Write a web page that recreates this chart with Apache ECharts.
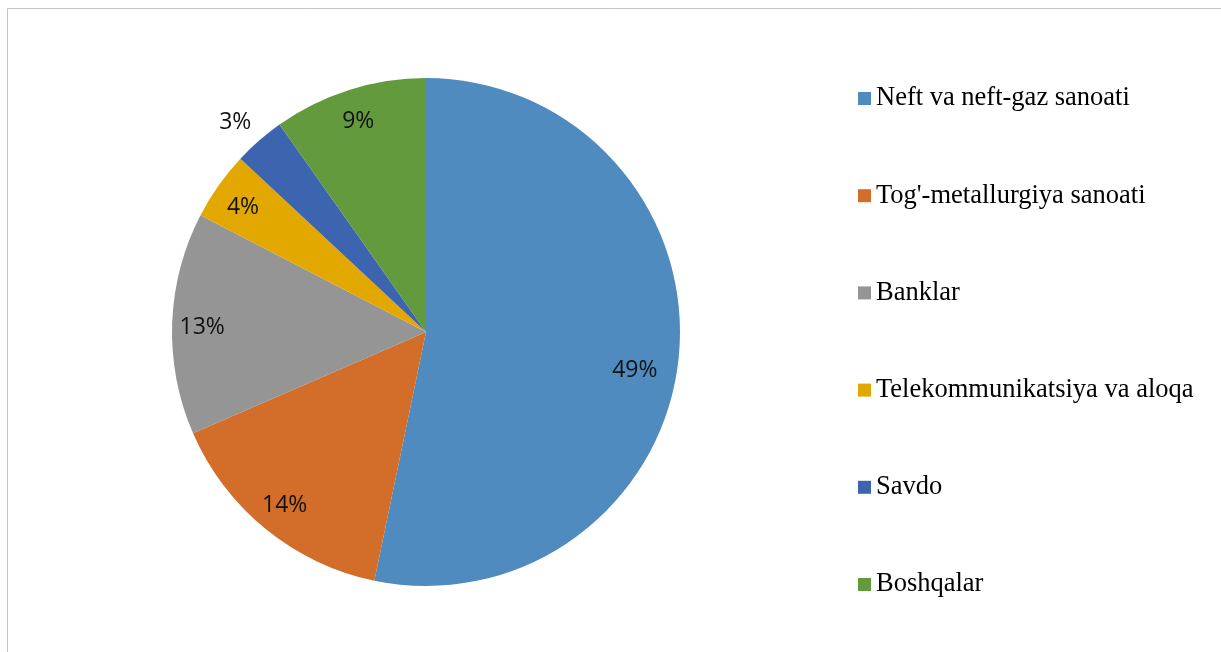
<!DOCTYPE html>
<html><head><meta charset="utf-8">
<script src="https://cdn.jsdelivr.net/npm/echarts@6/dist/echarts.min.js"></script>
<style>html,body{margin:0;padding:0;background:#fff}#c{width:1221px;height:652px}</style>
</head><body><div id="c"></div>
<script>
const categories = ["Neft va neft-gaz sanoati","Tog'-metallurgiya sanoati","Banklar","Telekommunikatsiya va aloqa","Savdo","Boshqalar"];
const values = [49, 14, 13, 4, 3, 9];
const colors = ['#4F8BBF','#D26D2A','#959595','#E3A800','#3D64AE','#639A3E'];
const outsideLabels = ["Savdo"];
// small label nudges (Excel best-fit placement)
const labelNudge = {"Neft va neft-gaz sanoati":[-14,16], "Savdo":[13,0], "Banklar":[0,3], "Telekommunikatsiya va aloqa":[0,5], "Boshqalar":[0,3]};

const chart = echarts.init(document.getElementById('c'));
const R = 254, C = [426, 332];
const sliceData = categories.map((n,i)=>({name:n, value:values[i], itemStyle:{color:colors[i]}}));
const labelData = categories.map((n,i)=>{
  const out = outsideLabels.includes(n);
  return {name:n, value:values[i],
    label: {position: out ? 'outside' : 'inside', offset: labelNudge[n] || [0,0]},
    labelLine: {show:false, length: out ? 24 : 0, length2: 0}};
});
chart.setOption({
  animation:false,
  graphic:[{type:'rect', shape:{x:7.5,y:8.5,width:1400,height:900}, style:{fill:'none',stroke:'#c4c4c4',lineWidth:1}, silent:true}],
  legend:{
    orient:'vertical', left:858, top:85, padding:0, itemWidth:13, itemHeight:13, itemGap:70.2,
    icon:'rect', data:categories, selectedMode:false,
    textStyle:{fontFamily:'Liberation Serif', fontSize:26.5, color:'#000'}
  },
  series:[
    {type:'pie', center:C, radius:R, startAngle:90, clockwise:true, silent:true,
     label:{show:false}, labelLine:{show:false}, data:sliceData, itemStyle:{borderWidth:0}},
    {type:'pie', center:C, radius:[R*0.74, R], startAngle:90, clockwise:true, silent:true,
     avoidLabelOverlap:false, itemStyle:{color:'rgba(0,0,0,0)', borderWidth:0},
     label:{show:true, formatter:'{c}%', fontFamily:'Open Sans', fontSize:23, color:'#111'},
     data:labelData}
  ]
});
</script></body></html>
